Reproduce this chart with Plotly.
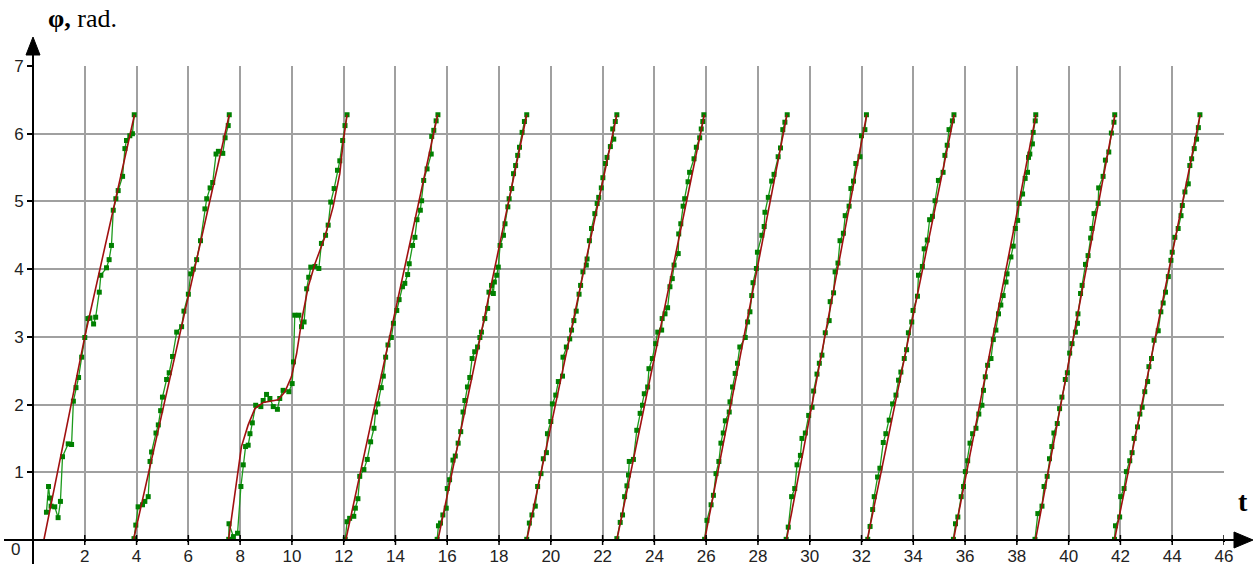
import plotly.graph_objects as go

# ---------------- data ----------------
# measured phase (green), one list per revolution
green_t = [
    [0.52, 0.60, 0.65, 0.70, 0.84, 0.97, 1.06, 1.14, 1.36, 1.49, 1.56, 1.66, 1.76, 1.88, 2.00, 2.12, 2.20, 2.34, 2.42, 2.56, 2.62, 2.84, 2.94, 3.03, 3.10, 3.20, 3.29, 3.46, 3.55, 3.61, 3.74, 3.84, 3.91],
    [3.90, 3.97, 4.06, 4.23, 4.32, 4.45, 4.52, 4.58, 4.75, 4.84, 4.93, 5.00, 5.16, 5.26, 5.39, 5.55, 5.74, 5.83, 6.00, 6.09, 6.19, 6.32, 6.47, 6.64, 6.71, 6.84, 6.94, 7.07, 7.16, 7.33, 7.42, 7.54, 7.58],
    [7.56, 7.57, 7.74, 7.90, 8.03, 8.12, 8.21, 8.31, 8.38, 8.47, 8.60, 8.80, 8.89, 9.02, 9.15, 9.28, 9.44, 9.53, 9.66, 9.88, 10.01, 10.06, 10.11, 10.27, 10.37, 10.47, 10.57, 10.65, 10.73, 10.89, 11.04, 11.14, 11.30, 11.40, 11.50, 11.63, 11.76, 11.85, 11.96, 12.05, 12.13],
    [12.06, 12.13, 12.23, 12.39, 12.45, 12.55, 12.62, 12.78, 12.91, 13.04, 13.17, 13.23, 13.32, 13.45, 13.53, 13.62, 13.71, 13.84, 13.92, 14.05, 14.14, 14.27, 14.36, 14.47, 14.53, 14.66, 14.75, 14.83, 14.96, 15.01, 15.09, 15.22, 15.38, 15.40, 15.48, 15.57, 15.64],
    [15.61, 15.66, 15.74, 15.83, 15.96, 16.00, 16.09, 16.22, 16.31, 16.42, 16.52, 16.61, 16.68, 16.78, 16.87, 16.96, 17.06, 17.17, 17.26, 17.32, 17.45, 17.56, 17.61, 17.71, 17.78, 17.82, 17.91, 17.97, 18.04, 18.17, 18.23, 18.34, 18.39, 18.49, 18.56, 18.64, 18.72, 18.79, 18.89, 18.98, 19.07],
    [19.07, 19.17, 19.27, 19.40, 19.49, 19.62, 19.71, 19.83, 19.87, 20.00, 20.06, 20.19, 20.29, 20.45, 20.47, 20.60, 20.73, 20.80, 20.89, 20.98, 21.09, 21.15, 21.24, 21.37, 21.40, 21.49, 21.57, 21.70, 21.79, 21.85, 21.95, 22.01, 22.11, 22.17, 22.30, 22.43, 22.39, 22.49, 22.55],
    [22.55, 22.68, 22.77, 22.85, 22.94, 23.00, 23.03, 23.19, 23.32, 23.45, 23.54, 23.61, 23.74, 23.79, 23.92, 24.05, 24.13, 24.28, 24.30, 24.41, 24.51, 24.60, 24.69, 24.76, 24.92, 24.94, 25.02, 25.11, 25.17, 25.30, 25.36, 25.53, 25.62, 25.75, 25.81, 25.87, 25.91],
    [25.94, 26.03, 26.19, 26.28, 26.38, 26.49, 26.57, 26.66, 26.74, 26.89, 26.92, 27.02, 27.12, 27.21, 27.30, 27.51, 27.60, 27.69, 27.76, 27.81, 27.94, 27.98, 28.15, 28.24, 28.27, 28.40, 28.53, 28.62, 28.78, 28.87, 28.96, 29.04, 29.13],
    [29.09, 29.17, 29.30, 29.42, 29.51, 29.64, 29.70, 29.83, 29.96, 30.09, 30.15, 30.28, 30.37, 30.47, 30.60, 30.75, 30.79, 30.92, 30.98, 31.09, 31.17, 31.30, 31.37, 31.52, 31.59, 31.69, 31.78, 31.94, 32.00, 32.13, 32.19],
    [32.24, 32.33, 32.43, 32.49, 32.62, 32.71, 32.84, 32.94, 33.07, 33.20, 33.33, 33.43, 33.52, 33.65, 33.74, 33.81, 33.94, 33.99, 34.16, 34.20, 34.35, 34.42, 34.54, 34.63, 34.74, 34.84, 34.97, 35.15, 35.22, 35.31, 35.38, 35.51, 35.57],
    [35.55, 35.63, 35.72, 35.85, 35.94, 36.01, 36.10, 36.19, 36.29, 36.42, 36.53, 36.65, 36.71, 36.78, 36.87, 37.00, 37.09, 37.19, 37.29, 37.38, 37.47, 37.58, 37.62, 37.77, 37.86, 37.94, 38.03, 38.09, 38.22, 38.32, 38.41, 38.45, 38.50, 38.60, 38.63, 38.71, 38.73],
    [38.70, 38.81, 38.97, 39.05, 39.17, 39.26, 39.35, 39.43, 39.56, 39.65, 39.74, 39.87, 39.95, 40.04, 40.13, 40.26, 40.34, 40.36, 40.46, 40.52, 40.65, 40.75, 40.85, 40.90, 40.98, 41.14, 41.16, 41.33, 41.42, 41.55, 41.65, 41.75, 41.78],
    [41.77, 41.81, 41.97, 42.01, 42.14, 42.23, 42.36, 42.45, 42.53, 42.66, 42.75, 42.84, 42.94, 43.05, 43.10, 43.20, 43.30, 43.46, 43.56, 43.65, 43.74, 43.85, 43.95, 44.00, 44.10, 44.23, 44.34, 44.39, 44.49, 44.62, 44.68, 44.75, 44.85, 44.94, 45.01, 45.07],
]
green_phi = [
    [0.41, 0.79, 0.62, 0.50, 0.49, 0.33, 0.57, 1.23, 1.42, 1.41, 2.05, 2.25, 2.40, 2.70, 2.99, 3.27, 3.28, 3.19, 3.29, 3.66, 3.91, 4.02, 4.14, 4.35, 4.87, 5.04, 5.16, 5.37, 5.78, 5.90, 5.97, 6.00, 6.28],
    [0.02, 0.22, 0.49, 0.52, 0.57, 0.64, 1.16, 1.30, 1.58, 1.70, 1.91, 2.11, 2.37, 2.47, 2.71, 3.07, 3.15, 3.38, 3.63, 3.93, 4.00, 4.14, 4.42, 4.89, 5.04, 5.20, 5.28, 5.70, 5.74, 5.71, 5.94, 6.12, 6.28],
    [0.01, 0.24, 0.05, 0.10, 0.79, 1.11, 1.38, 1.40, 1.57, 1.73, 1.99, 1.97, 2.06, 2.15, 2.09, 1.97, 1.93, 2.09, 2.21, 2.19, 2.31, 2.63, 3.32, 3.32, 3.15, 3.22, 3.71, 3.88, 4.03, 4.04, 4.01, 4.38, 4.50, 4.65, 4.99, 5.19, 5.46, 5.60, 5.90, 6.12, 6.28],
    [0.01, 0.27, 0.32, 0.35, 0.47, 0.61, 0.94, 1.04, 1.19, 1.45, 1.65, 1.89, 2.01, 2.25, 2.42, 2.70, 2.88, 2.99, 3.20, 3.39, 3.55, 3.74, 3.79, 3.92, 4.08, 4.35, 4.47, 4.73, 4.87, 5.01, 5.31, 5.48, 5.70, 5.96, 6.05, 6.19, 6.28],
    [0.01, 0.21, 0.25, 0.37, 0.47, 0.76, 0.89, 1.18, 1.24, 1.43, 1.60, 1.89, 2.06, 2.26, 2.40, 2.68, 2.78, 2.85, 2.99, 3.07, 3.27, 3.42, 3.66, 3.76, 3.64, 3.81, 3.91, 4.03, 4.35, 4.50, 4.67, 4.92, 5.04, 5.19, 5.41, 5.53, 5.68, 5.80, 6.02, 6.18, 6.28],
    [0.01, 0.25, 0.37, 0.50, 0.79, 0.98, 1.20, 1.29, 1.57, 1.75, 2.01, 2.14, 2.34, 2.42, 2.70, 2.85, 2.97, 3.10, 3.24, 3.38, 3.63, 3.76, 3.96, 4.06, 4.15, 4.42, 4.60, 4.82, 4.97, 5.06, 5.20, 5.35, 5.56, 5.65, 5.81, 5.92, 6.07, 6.18, 6.28],
    [0.02, 0.26, 0.37, 0.64, 0.80, 0.96, 1.16, 1.19, 1.62, 1.87, 1.99, 2.16, 2.26, 2.53, 2.68, 2.90, 3.07, 3.10, 3.27, 3.34, 3.43, 3.74, 3.86, 4.06, 4.23, 4.52, 4.67, 4.93, 5.04, 5.29, 5.43, 5.63, 5.80, 5.94, 6.07, 6.18, 6.28],
    [0.01, 0.29, 0.52, 0.66, 0.98, 1.16, 1.43, 1.58, 1.76, 1.89, 2.04, 2.26, 2.46, 2.61, 2.85, 2.99, 3.22, 3.37, 3.61, 3.80, 4.01, 4.25, 4.50, 4.63, 4.84, 5.06, 5.30, 5.40, 5.66, 5.79, 6.06, 6.17, 6.28],
    [0.01, 0.19, 0.64, 0.76, 1.11, 1.25, 1.50, 1.58, 1.84, 1.96, 2.20, 2.45, 2.61, 2.73, 3.06, 3.24, 3.52, 3.65, 3.96, 4.09, 4.42, 4.53, 4.79, 4.93, 5.19, 5.30, 5.56, 5.66, 5.97, 6.06, 6.28],
    [0.01, 0.20, 0.45, 0.64, 0.93, 1.06, 1.44, 1.57, 1.77, 2.01, 2.14, 2.36, 2.48, 2.68, 2.81, 3.06, 3.22, 3.39, 3.60, 3.91, 4.04, 4.30, 4.43, 4.73, 4.78, 5.01, 5.31, 5.43, 5.68, 5.83, 6.06, 6.19, 6.28],
    [0.01, 0.24, 0.34, 0.64, 0.79, 1.01, 1.17, 1.43, 1.57, 1.65, 1.86, 1.99, 2.21, 2.41, 2.58, 2.68, 2.96, 3.10, 3.34, 3.47, 3.61, 3.81, 3.93, 4.18, 4.34, 4.60, 4.72, 4.97, 5.11, 5.34, 5.43, 5.65, 5.70, 5.85, 6.02, 6.19, 6.28],
    [0.01, 0.39, 0.50, 0.79, 0.94, 1.20, 1.38, 1.58, 1.72, 1.94, 2.11, 2.37, 2.47, 2.76, 2.90, 3.07, 3.20, 3.34, 3.64, 3.76, 4.07, 4.20, 4.46, 4.60, 4.82, 4.97, 5.20, 5.37, 5.61, 5.73, 6.01, 6.17, 6.28],
    [0.01, 0.21, 0.34, 0.64, 0.76, 1.01, 1.17, 1.29, 1.50, 1.67, 1.86, 1.96, 2.19, 2.34, 2.56, 2.68, 2.95, 3.09, 3.37, 3.50, 3.66, 3.89, 4.13, 4.25, 4.47, 4.60, 4.79, 4.94, 5.14, 5.26, 5.53, 5.63, 5.78, 5.92, 6.09, 6.28],
]

# model phase (red), knots of each revolution
red_t = [
    [0.42, 1.16, 2.00, 3.92],
    [3.88, 5.05, 7.58],
    [7.55, 8.05, 8.31, 8.57, 8.89, 9.47, 9.73, 9.98, 10.18, 10.40, 10.63, 10.89, 11.27, 11.59, 11.85, 11.98, 12.13],
    [12.08, 15.63],
    [15.64, 19.07],
    [19.07, 22.55],
    [22.55, 25.93],
    [25.94, 29.12],
    [29.10, 32.20],
    [32.22, 35.58],
    [35.55, 38.74],
    [38.72, 41.79],
    [41.77, 45.08],
]
red_phi = [
    [0.0, 1.38, 3.0, 6.28],
    [0.0, 2.0, 6.28],
    [0.0, 1.38, 1.70, 1.94, 2.03, 2.07, 2.19, 2.41, 2.75, 3.29, 3.74, 4.08, 4.47, 4.92, 5.41, 5.88, 6.28],
    [0.0, 6.28], [0.0, 6.28], [0.0, 6.28], [0.0, 6.28], [0.0, 6.28],
    [0.0, 6.28], [0.0, 6.28], [0.0, 6.28], [0.0, 6.28], [0.0, 6.28],
]

x_ticks = list(range(2, 47, 2))
y_ticks = list(range(1, 8))


def join(segs):
    out = []
    for s in segs:
        out.extend(s)
        out.append(None)
    return out[:-1]


fig = go.Figure()
fig.add_trace(go.Scatter(
    x=join(green_t), y=join(green_phi), mode="lines+markers",
    line=dict(color="#1c9a1c", width=1.3),
    marker=dict(symbol="square", size=5, color="#008000"),
    connectgaps=False, showlegend=False, hoverinfo="skip"))
fig.add_trace(go.Scatter(
    x=join(red_t), y=join(red_phi), mode="lines",
    line=dict(color="#a01010", width=1.6),
    connectgaps=False, showlegend=False, hoverinfo="skip"))

tick_font = dict(family="Liberation Sans, Arial, sans-serif", size=17, color="#222")

fig.update_layout(
    width=1257, height=569, autosize=False,
    margin=dict(l=33, r=33, t=66, b=29, pad=0),
    paper_bgcolor="white", plot_bgcolor="white",
    xaxis=dict(range=[0, 46], tickvals=x_ticks, ticktext=[str(v) for v in x_ticks],
               showgrid=True, gridcolor="#a0a0a0", gridwidth=1.5,
               zeroline=False, showline=False, automargin=False,
               ticks="outside", ticklen=1, tickwidth=1.5, tickcolor="black",
               tickfont=tick_font, fixedrange=True),
    yaxis=dict(range=[0, 7], tickvals=y_ticks, ticktext=[str(v) for v in y_ticks],
               showgrid=True, gridcolor="#a0a0a0", gridwidth=1.5,
               zeroline=False, showline=False, automargin=False,
               ticks="outside", ticklen=5, tickwidth=1.5, tickcolor="black",
               tickfont=tick_font, fixedrange=True),
    font=tick_font,
)

W = 1257 - 33 - 33
H = 569 - 66 - 29


def px2x(p):
    return (p - 33) / W


def py2y(p):
    return (569 - 29 - p) / H


# small tick marks crossing the t axis
for v in x_ticks:
    fig.add_shape(type="line", xref="x", yref="paper", x0=v, x1=v,
                  y0=py2y(545), y1=py2y(535),
                  line=dict(color="black", width=1.5), layer="above")

# axis lines extending beyond the plotting area
fig.add_shape(type="line", xref="paper", yref="paper",
              x0=px2x(4), x1=px2x(1238), y0=0, y1=0,
              line=dict(color="black", width=2), layer="above")
fig.add_shape(type="line", xref="paper", yref="paper",
              x0=0, x1=0, y0=py2y(564), y1=py2y(50),
              line=dict(color="black", width=2), layer="above")
# arrow heads
fig.add_shape(type="path", xref="paper", yref="paper",
              path=f"M {px2x(1253)} 0 L {px2x(1234)} {py2y(532)} L {px2x(1234)} {py2y(548)} Z",
              fillcolor="black", line=dict(color="black", width=1), layer="above")
fig.add_shape(type="path", xref="paper", yref="paper",
              path=f"M 0 {py2y(37)} L {px2x(26)} {py2y(55)} L {px2x(40)} {py2y(55)} Z",
              fillcolor="black", line=dict(color="black", width=1), layer="above")

fig.add_annotation(text="<b>φ,</b> rad.", xref="paper", yref="paper",
                   x=px2x(46), y=py2y(19), xanchor="left", yanchor="middle",
                   showarrow=False,
                   font=dict(family="Liberation Serif, Times New Roman, serif", size=26, color="black"))
fig.add_annotation(text="<b>t</b>", xref="paper", yref="paper",
                   x=px2x(1243), y=py2y(501), xanchor="center", yanchor="middle",
                   showarrow=False,
                   font=dict(family="Liberation Serif, Times New Roman, serif", size=28, color="black"))
fig.add_annotation(text="0", xref="paper", yref="paper",
                   x=px2x(15), y=py2y(549), xanchor="center", yanchor="middle",
                   showarrow=False, font=tick_font)

fig.write_html(
    "out.html",
    config={"responsive": False, "displayModeBar": False},
    post_script="document.body.style.margin='0';document.body.style.padding='0';document.body.style.overflow='hidden';",
)
